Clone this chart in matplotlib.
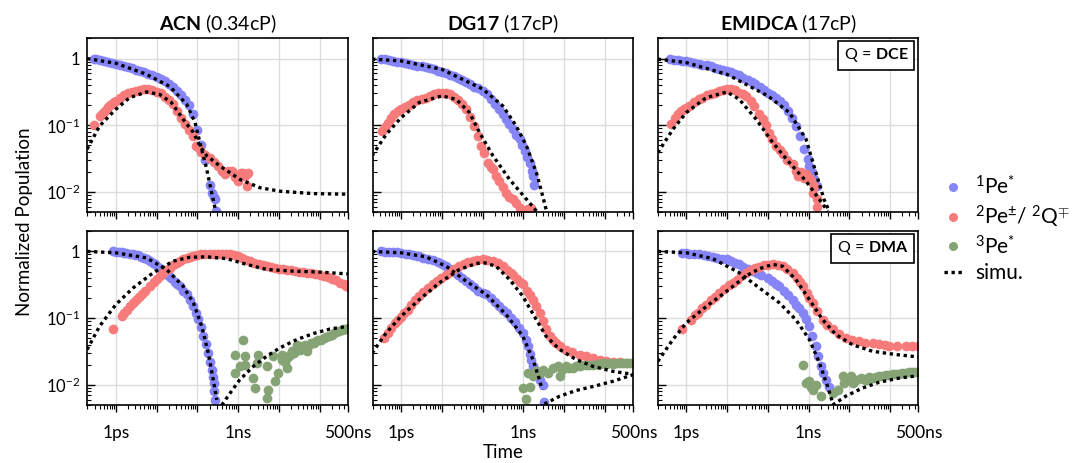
import matplotlib
matplotlib.use("Agg")
import matplotlib.pyplot as plt
from matplotlib.lines import Line2D
from matplotlib.ticker import FixedLocator, LogLocator, NullFormatter

plt.rcParams['font.family'] = ['Lato', 'DejaVu Sans']
plt.rcParams['mathtext.fontset'] = 'custom'
plt.rcParams['mathtext.rm'] = 'Lato'
plt.rcParams['mathtext.it'] = 'Lato:italic'
plt.rcParams['mathtext.bf'] = 'Lato:bold'

# ---------------- data (time in ps, normalized population) ----------------
solvents = ["ACN", "DG17", "EMIDCA"]
viscosity = ["0.34cP", "17cP", "17cP"]
quenchers = ["DCE", "DMA"]
xtick_vals = [1, 1e3, 5e5]
xtick_labels = ["1ps", "1ns", "500ns"]
ytick_vals = [0.01, 0.1, 1]
ytick_labels = ["$10^{-2}$", "$10^{-1}$", "1"]
legend_labels = [r"$^{1}\mathrm{Pe}^{*}$", r"$^{2}\mathrm{Pe}^{\pm}$/ $^{2}\mathrm{Q}^{\mp}$",
                 r"$^{3}\mathrm{Pe}^{*}$", "simu."]

# --- ACN / DCE ---
acn_dce_s1_t = [0.29, 0.32, 0.40, 0.50, 0.63, 0.79, 1.0, 1.26, 1.58, 2.0, 2.5, 3.2, 4.0, 5.0, 6.3, 7.9, 10, 12.6, 15.8, 20, 25, 32, 40, 50, 63, 79, 100, 126, 158, 200, 225, 250, 270, 288]
acn_dce_s1_v = [1.0, 0.97, 0.95, 0.92, 0.90, 0.87, 0.84, 0.81, 0.78, 0.75, 0.72, 0.68, 0.65, 0.62, 0.59, 0.56, 0.53, 0.50, 0.46, 0.42, 0.38, 0.33, 0.28, 0.24, 0.20, 0.15, 0.085, 0.05, 0.03, 0.013, 0.0098, 0.0085, 0.0078, 0.0052]
acn_dce_s2_t = [0.29, 0.40, 0.45, 0.50, 0.56, 0.63, 0.71, 0.79, 0.89, 1.0, 1.26, 1.58, 2.0, 2.5, 3.2, 4.0, 5.0, 6.3, 7.9, 10, 12.6, 15.8, 20, 25, 32, 40, 50, 63, 79, 93, 110, 126, 158, 200, 250, 320, 400, 480, 560, 700, 850, 1000, 1200, 1350, 1500, 1620, 1800]
acn_dce_s2_v = [0.10, 0.138, 0.15, 0.16, 0.17, 0.185, 0.20, 0.21, 0.22, 0.232, 0.255, 0.28, 0.30, 0.32, 0.33, 0.34, 0.345, 0.345, 0.335, 0.32, 0.30, 0.27, 0.24, 0.21, 0.165, 0.13, 0.105, 0.085, 0.07, 0.049, 0.045, 0.04, 0.036, 0.032, 0.028, 0.025, 0.021, 0.0184, 0.021, 0.0206, 0.017, 0.0145, 0.0195, 0.0195, 0.0175, 0.0123, 0.019]
acn_dce_sim1_t = [0.197, 1, 5.7, 21.3, 54.7, 88, 116, 170, 225, 288]
acn_dce_sim1_v = [1.0, 0.85, 0.58, 0.38, 0.207, 0.11, 0.055, 0.022, 0.0098, 0.0049]
acn_dce_sim2_t = [0.197, 0.40, 1, 2.2, 5.7, 12, 23, 45, 80, 116, 170, 360, 1110, 3500, 10900, 71000, 5.2e5]
acn_dce_sim2_v = [0.044, 0.098, 0.174, 0.26, 0.316, 0.29, 0.22, 0.123, 0.078, 0.049, 0.035, 0.0246, 0.0155, 0.0116, 0.0103, 0.0095, 0.0093]

# --- DG17 / DCE ---
dg17_dce_s1_t = [0.32, 0.40, 0.50, 0.63, 0.79, 1.0, 1.26, 1.58, 2.0, 2.5, 3.2, 4.0, 5.0, 6.3, 7.9, 10, 12.6, 15.8, 20, 25, 32, 40, 50, 63, 79, 100, 126, 158, 200, 250, 320, 380, 450, 560, 680, 810, 950, 1080, 1260, 1440, 1600, 1700, 1800]
dg17_dce_s1_v = [1.0, 0.97, 0.94, 0.92, 0.90, 0.88, 0.85, 0.83, 0.80, 0.78, 0.76, 0.74, 0.72, 0.69, 0.66, 0.63, 0.60, 0.57, 0.54, 0.51, 0.47, 0.44, 0.41, 0.38, 0.36, 0.33, 0.29, 0.25, 0.21, 0.175, 0.15, 0.123, 0.105, 0.087, 0.072, 0.062, 0.05, 0.041, 0.033, 0.0276, 0.021, 0.0174, 0.013]
dg17_dce_s2_t = [0.34, 0.40, 0.47, 0.56, 0.69, 0.85, 1.0, 1.26, 1.58, 2.0, 2.5, 3.2, 4.0, 5.0, 6.3, 7.9, 10, 12.6, 15.8, 20, 25, 32, 40, 50, 63, 79, 93, 110, 135, 160, 180, 220, 260, 320, 380, 450, 560, 680, 810, 950, 1080, 1300, 1560]
dg17_dce_s2_v = [0.082, 0.095, 0.11, 0.127, 0.147, 0.162, 0.174, 0.19, 0.205, 0.225, 0.24, 0.25, 0.26, 0.275, 0.29, 0.30, 0.31, 0.30, 0.29, 0.265, 0.24, 0.21, 0.174, 0.135, 0.098, 0.07, 0.049, 0.038, 0.0276, 0.024, 0.022, 0.0175, 0.0146, 0.012, 0.0098, 0.0085, 0.0078, 0.0068, 0.0058, 0.0053, 0.0052, 0.0055, 0.0058]
dg17_dce_sim1_t = [0.194, 1, 10, 100, 316, 670, 1200, 2100, 3000, 3800]
dg17_dce_sim1_v = [0.98, 0.92, 0.69, 0.35, 0.195, 0.098, 0.049, 0.0195, 0.0087, 0.0049]
dg17_dce_sim2_t = [0.194, 0.43, 1, 2.8, 10, 22.5, 48, 84, 180, 460, 1200, 2100]
dg17_dce_sim2_v = [0.035, 0.073, 0.13, 0.22, 0.276, 0.245, 0.155, 0.078, 0.035, 0.0155, 0.0078, 0.0052]

# --- EMIDCA / DCE ---
emi_dce_s1_t = [0.405, 0.5, 0.63, 0.79, 1.0, 1.26, 1.58, 2.0, 2.5, 3.2, 4.0, 5.0, 6.3, 7.9, 10, 12.6, 15.8, 20, 25, 32, 40, 50, 63, 79, 100, 126, 158, 200, 250, 320, 400, 500, 630, 790, 950, 1050, 1200, 1400, 1640]
emi_dce_s1_v = [0.98, 0.96, 0.94, 0.93, 0.92, 0.89, 0.86, 0.83, 0.81, 0.79, 0.76, 0.73, 0.70, 0.67, 0.65, 0.62, 0.59, 0.56, 0.52, 0.48, 0.45, 0.42, 0.37, 0.34, 0.31, 0.28, 0.255, 0.228, 0.2, 0.165, 0.13, 0.098, 0.07, 0.044, 0.031, 0.0245, 0.02, 0.0155, 0.0123]
emi_dce_s2_t = [0.43, 0.52, 0.63, 0.75, 0.89, 1.0, 1.2, 1.58, 2.1, 2.5, 3.2, 4.1, 5.0, 6.5, 7.9, 10, 12.6, 15.8, 20, 25, 30, 38, 47, 60, 75, 90, 109, 130, 160, 200, 235, 300, 410, 480, 540, 650, 760, 870, 1000, 1150, 1260, 1400, 1640, 1640]
emi_dce_s2_v = [0.103, 0.13, 0.15, 0.165, 0.175, 0.18, 0.195, 0.22, 0.245, 0.26, 0.28, 0.29, 0.31, 0.33, 0.34, 0.347, 0.345, 0.335, 0.31, 0.29, 0.275, 0.235, 0.195, 0.15, 0.123, 0.10, 0.078, 0.062, 0.049, 0.042, 0.037, 0.03, 0.026, 0.021, 0.0174, 0.02, 0.0165, 0.0184, 0.016, 0.0146, 0.0098, 0.0125, 0.0078, 0.006]
emi_dce_sim1_t = [0.2, 1, 10, 100, 340, 870, 1520, 2400, 3200]
emi_dce_sim1_v = [0.98, 0.87, 0.58, 0.276, 0.155, 0.062, 0.0195, 0.0078, 0.0052]
emi_dce_sim2_t = [0.2, 0.47, 1, 3.1, 10, 20, 52, 133, 340, 870, 1840, 2950]
emi_dce_sim2_v = [0.039, 0.087, 0.155, 0.26, 0.316, 0.245, 0.123, 0.055, 0.0276, 0.0146, 0.0078, 0.0052]

# --- ACN / DMA ---
acn_dma_s1_t = [0.86, 1.0, 1.2, 1.38, 1.58, 1.8, 2.2, 2.6, 3.0, 3.5, 4.2, 5.0, 5.7, 6.8, 8.0, 9.1, 11, 12.6, 14.6, 17.5, 20, 23, 28, 32, 37.5, 45, 55, 65, 80, 92, 106, 120, 140, 160, 186, 205, 225, 240, 250, 262, 272]
acn_dma_s1_v = [1.0, 0.99, 0.98, 0.98, 0.96, 0.95, 0.93, 0.91, 0.89, 0.87, 0.83, 0.79, 0.76, 0.71, 0.67, 0.64, 0.58, 0.55, 0.51, 0.46, 0.43, 0.40, 0.35, 0.33, 0.30, 0.26, 0.227, 0.19, 0.152, 0.12, 0.096, 0.075, 0.054, 0.041, 0.030, 0.022, 0.017, 0.013, 0.0107, 0.008, 0.006]
acn_dma_s2_t = [0.86, 1.38, 1.6, 1.83, 2.2, 2.67, 3.2, 3.8, 4.3, 5.3, 6.9, 8.5, 10, 12.1, 14.5, 17.5, 21, 26, 32, 37.5, 45, 55, 66, 80, 100, 126, 158, 200, 250, 320, 400, 500, 640, 800, 1000, 1260, 1580, 2000, 2500, 3200, 4000, 5000, 6300, 7900, 10000, 12600, 15800, 20000, 25000, 32000, 40000, 50000, 63000, 79000, 100000, 126000, 158000, 200000, 250000, 320000, 400000, 450000, 520000]
acn_dma_s2_v = [0.068, 0.107, 0.12, 0.135, 0.15, 0.17, 0.19, 0.21, 0.227, 0.26, 0.30, 0.35, 0.39, 0.43, 0.48, 0.53, 0.57, 0.63, 0.68, 0.716, 0.76, 0.80, 0.83, 0.86, 0.89, 0.91, 0.92, 0.93, 0.93, 0.92, 0.92, 0.93, 0.92, 0.88, 0.85, 0.80, 0.75, 0.71, 0.68, 0.64, 0.62, 0.60, 0.58, 0.57, 0.55, 0.54, 0.53, 0.52, 0.51, 0.50, 0.49, 0.48, 0.47, 0.46, 0.44, 0.43, 0.41, 0.39, 0.37, 0.34, 0.32, 0.305, 0.29]
acn_dma_s3_t = [1352, 844, 844, 1120, 1487, 1487, 2380, 2620, 3160, 2880, 5070, 5570, 5070, 7390, 8130, 9810, 11850, 15700, 20900, 27700, 33500, 48800, 71200, 125000, 221000, 354000, 517000, 12000, 14000, 17000, 19000, 23000, 26000, 30000, 36000, 40000, 45000, 55000, 60000, 80000, 90000, 110000, 140000, 170000, 200000, 260000, 300000, 400000, 450000]
acn_dma_s3_v = [0.0468, 0.0285, 0.0151, 0.019, 0.0269, 0.0202, 0.0127, 0.009, 0.0285, 0.0214, 0.019, 0.0085, 0.0064, 0.0269, 0.0114, 0.0151, 0.0285, 0.018, 0.032, 0.0403, 0.0339, 0.032, 0.0427, 0.0507, 0.0603, 0.0676, 0.0716, 0.024, 0.022, 0.026, 0.028, 0.03, 0.034, 0.036, 0.035, 0.038, 0.04, 0.04, 0.042, 0.045, 0.047, 0.048, 0.052, 0.055, 0.057, 0.062, 0.064, 0.068, 0.07]
acn_dma_sim1_t = [0.197, 1, 5.7, 17.6, 45, 80, 128, 186, 246, 300]
acn_dma_sim1_v = [1.0, 0.955, 0.80, 0.537, 0.30, 0.17, 0.076, 0.030, 0.012, 0.006]
acn_dma_sim2_t = [0.197, 0.40, 1, 2.67, 8.3, 25.6, 66, 170, 525, 1620, 5050, 23000, 102000, 517000]
acn_dma_sim2_v = [0.034, 0.076, 0.16, 0.285, 0.48, 0.716, 0.82, 0.83, 0.78, 0.64, 0.537, 0.507, 0.49, 0.46]
acn_dma_sim3_t = [397, 640, 1100, 2370, 5050, 10600, 27700, 71000, 180000, 517000]
acn_dma_sim3_v = [0.005, 0.0076, 0.012, 0.019, 0.027, 0.036, 0.048, 0.059, 0.069, 0.076]

# --- DG17 / DMA ---
dg17_dma_s1_t = [0.32, 0.40, 0.50, 0.63, 0.79, 1.0, 1.33, 1.58, 2.0, 2.5, 2.8, 3.5, 4.5, 6.0, 7.9, 10, 12.8, 15.8, 20, 25, 32, 40, 50, 63, 79, 100, 123, 158, 200, 250, 320, 400, 500, 630, 790, 970, 1150, 1300, 1450, 1560, 1750, 1900, 2200, 2500, 3000, 3300]
dg17_dma_s1_v = [1.0, 0.99, 0.98, 0.98, 0.97, 0.95, 0.93, 0.91, 0.88, 0.86, 0.85, 0.81, 0.78, 0.74, 0.69, 0.64, 0.60, 0.55, 0.50, 0.44, 0.40, 0.36, 0.32, 0.29, 0.26, 0.24, 0.227, 0.20, 0.175, 0.155, 0.135, 0.118, 0.1, 0.088, 0.072, 0.06, 0.047, 0.038, 0.029, 0.024, 0.019, 0.017, 0.014, 0.012, 0.010, 0.0055]
dg17_dma_s2_t = [0.39, 0.47, 0.57, 0.70, 0.83, 1.0, 1.2, 1.46, 1.8, 2.2, 2.8, 3.5, 4.5, 6.0, 7.5, 9.5, 12.8, 16, 20, 27, 35, 45, 58, 75, 101, 130, 180, 240, 315, 400, 500, 560, 700, 850, 970, 1200, 1450, 1730, 2100, 2500, 3000, 3600, 4500, 5500, 6400, 8000, 11400, 16000, 24200, 35000, 51000, 75000, 109000, 160000, 232000, 350000, 520000]
dg17_dma_s2_v = [0.051, 0.06, 0.072, 0.085, 0.095, 0.105, 0.12, 0.135, 0.16, 0.185, 0.215, 0.245, 0.28, 0.32, 0.36, 0.40, 0.45, 0.50, 0.55, 0.60, 0.65, 0.69, 0.716, 0.74, 0.76, 0.75, 0.716, 0.66, 0.60, 0.53, 0.48, 0.45, 0.39, 0.35, 0.32, 0.26, 0.22, 0.19, 0.15, 0.12, 0.09, 0.068, 0.054, 0.047, 0.043, 0.038, 0.034, 0.031, 0.0286, 0.027, 0.0255, 0.024, 0.0227, 0.022, 0.0219, 0.0215, 0.0214]
dg17_dma_s3_t = [982, 1141, 1303, 1432, 1729, 2089, 2522, 3048, 4044, 5370, 7120, 7820, 11400, 16600, 24300, 35400, 51600, 75300, 110000, 160000, 234000, 341000, 517000, 9000, 13000, 20000, 28000, 42000, 63000, 90000, 130000, 190000, 280000, 420000]
dg17_dma_s3_v = [0.009, 0.0062, 0.0151, 0.0095, 0.0135, 0.016, 0.0151, 0.017, 0.0151, 0.018, 0.019, 0.0135, 0.019, 0.018, 0.019, 0.0202, 0.0198, 0.0209, 0.0206, 0.0209, 0.0214, 0.0214, 0.0214, 0.017, 0.018, 0.019, 0.02, 0.02, 0.0205, 0.021, 0.021, 0.0212, 0.0215, 0.0216]
dg17_dma_sim1_t = [0.194, 1, 4.1, 12.8, 39.6, 123, 380, 970, 1730, 2500, 2900]
dg17_dma_sim1_v = [1.0, 0.955, 0.83, 0.60, 0.36, 0.227, 0.113, 0.054, 0.024, 0.012, 0.0085]
dg17_dma_sim2_t = [0.194, 0.43, 1, 2.8, 8.8, 27, 70, 111, 215, 460, 970, 2090, 3600, 7820, 20000, 51600, 160000, 517000]
dg17_dma_sim2_v = [0.03, 0.06, 0.107, 0.19, 0.34, 0.537, 0.66, 0.676, 0.60, 0.38, 0.214, 0.095, 0.054, 0.034, 0.024, 0.019, 0.016, 0.0144]
dg17_dma_sim3_t = [3300, 7820, 20000, 51600, 160000, 517000]
dg17_dma_sim3_v = [0.0052, 0.0068, 0.0083, 0.0095, 0.0114, 0.0144]

# --- EMIDCA / DMA ---
emi_dma_s1_t = [0.8, 1.0, 1.2, 1.58, 2.1, 2.7, 3.5, 4.5, 5.8, 7.5, 10, 12.6, 15.8, 20, 25, 32, 43, 55, 70, 100, 126, 158, 193, 250, 320, 410, 500, 600, 720, 850, 1050, 1250, 1520, 1750, 2000, 2300, 2700, 3200]
emi_dma_s1_v = [0.955, 0.94, 0.93, 0.92, 0.90, 0.88, 0.86, 0.83, 0.80, 0.78, 0.76, 0.72, 0.68, 0.64, 0.59, 0.55, 0.51, 0.47, 0.44, 0.40, 0.36, 0.33, 0.30, 0.26, 0.22, 0.19, 0.16, 0.14, 0.12, 0.098, 0.076, 0.055, 0.038, 0.027, 0.019, 0.015, 0.012, 0.0095]
emi_dma_s2_t = [0.8, 1.33, 1.6, 1.93, 2.5, 3.1, 4.0, 5.0, 6.5, 8.5, 11, 13.9, 17.5, 22, 29.5, 38, 50, 62, 80, 100, 133, 180, 232, 300, 410, 520, 620, 720, 900, 1050, 1260, 1600, 2220, 2800, 3900, 5500, 8200, 12000, 17600, 25000, 37300, 55000, 75000, 95000, 150000, 242000, 350000, 500000]
emi_dma_s2_v = [0.068, 0.095, 0.11, 0.12, 0.14, 0.16, 0.185, 0.21, 0.24, 0.27, 0.31, 0.34, 0.38, 0.43, 0.48, 0.53, 0.57, 0.59, 0.62, 0.63, 0.64, 0.63, 0.60, 0.55, 0.48, 0.40, 0.35, 0.30, 0.24, 0.20, 0.17, 0.13, 0.095, 0.08, 0.068, 0.058, 0.051, 0.047, 0.045, 0.043, 0.042, 0.041, 0.04, 0.039, 0.038, 0.038, 0.038, 0.038]
emi_dma_s3_t = [747, 868, 1048, 1150, 1264, 1527, 2024, 3910, 5180, 6870, 7550, 9100, 11000, 12100, 14600, 19300, 25600, 37300, 54300, 95500, 168000, 294000, 500000, 22000, 30000, 45000, 65000, 80000, 120000, 140000, 200000, 240000, 350000, 420000]
emi_dma_s3_v = [0.02, 0.0107, 0.0114, 0.0095, 0.0085, 0.0101, 0.0068, 0.0076, 0.0085, 0.0135, 0.0107, 0.012, 0.0135, 0.0107, 0.012, 0.0127, 0.012, 0.0127, 0.0135, 0.0143, 0.0148, 0.0155, 0.0155, 0.0125, 0.013, 0.013, 0.0138, 0.014, 0.0145, 0.0147, 0.015, 0.0152, 0.0155, 0.0155]
emi_dma_sim1_t = [0.2, 1, 4.5, 20, 62, 193, 490, 1050, 1840, 2950, 3900]
emi_dma_sim1_v = [1.0, 0.955, 0.78, 0.48, 0.285, 0.17, 0.095, 0.048, 0.0216, 0.0095, 0.0054]
emi_dma_sim2_t = [0.2, 0.47, 1, 3.1, 9.5, 29.5, 62, 133, 232, 490, 1050, 2220, 4700, 12100, 37300, 140000, 500000]
emi_dma_sim2_v = [0.0226, 0.048, 0.085, 0.15, 0.25, 0.43, 0.55, 0.64, 0.60, 0.38, 0.19, 0.095, 0.057, 0.040, 0.032, 0.0286, 0.0263]
emi_dma_sim3_t = [3900, 8200, 21000, 54000, 168000, 500000]
emi_dma_sim3_v = [0.005, 0.0068, 0.009, 0.011, 0.0127, 0.0138]

panels = [
    [  # DCE row
        ([(acn_dce_s1_t, acn_dce_s1_v), (acn_dce_s2_t, acn_dce_s2_v), None],
         [(acn_dce_sim1_t, acn_dce_sim1_v), (acn_dce_sim2_t, acn_dce_sim2_v)]),
        ([(dg17_dce_s1_t, dg17_dce_s1_v), (dg17_dce_s2_t, dg17_dce_s2_v), None],
         [(dg17_dce_sim1_t, dg17_dce_sim1_v), (dg17_dce_sim2_t, dg17_dce_sim2_v)]),
        ([(emi_dce_s1_t, emi_dce_s1_v), (emi_dce_s2_t, emi_dce_s2_v), None],
         [(emi_dce_sim1_t, emi_dce_sim1_v), (emi_dce_sim2_t, emi_dce_sim2_v)]),
    ],
    [  # DMA row
        ([(acn_dma_s1_t, acn_dma_s1_v), (acn_dma_s2_t, acn_dma_s2_v), (acn_dma_s3_t, acn_dma_s3_v)],
         [(acn_dma_sim1_t, acn_dma_sim1_v), (acn_dma_sim2_t, acn_dma_sim2_v), (acn_dma_sim3_t, acn_dma_sim3_v)]),
        ([(dg17_dma_s1_t, dg17_dma_s1_v), (dg17_dma_s2_t, dg17_dma_s2_v), (dg17_dma_s3_t, dg17_dma_s3_v)],
         [(dg17_dma_sim1_t, dg17_dma_sim1_v), (dg17_dma_sim2_t, dg17_dma_sim2_v), (dg17_dma_sim3_t, dg17_dma_sim3_v)]),
        ([(emi_dma_s1_t, emi_dma_s1_v), (emi_dma_s2_t, emi_dma_s2_v), (emi_dma_s3_t, emi_dma_s3_v)],
         [(emi_dma_sim1_t, emi_dma_sim1_v), (emi_dma_sim2_t, emi_dma_sim2_v), (emi_dma_sim3_t, emi_dma_sim3_v)]),
    ],
]

colors = ["#8585f7", "#f77b7b", "#85a374"]
sim_style = dict(color="black", lw=2.4, linestyle=(0, (1, 1.1)), dash_capstyle="butt")
major_x = [1, 10, 100, 1e3, 1e4, 1e5, 5e5]

fig, axes = plt.subplots(2, 3, figsize=(10.73, 4.63), dpi=100)
fig.subplots_adjust(left=0.0814, right=0.856, top=0.917, bottom=0.125, wspace=0.094, hspace=0.11)

for r in range(2):
    for c in range(3):
        ax = axes[r][c]
        series, sims = panels[r][c]
        for k, s in enumerate(series):
            if s is None:
                continue
            ax.plot(s[0], s[1], "o", color=colors[k], ms=7.0, mew=0, zorder=2)
        for s in sims:
            ax.plot(s[0], s[1], zorder=3, **sim_style)
        ax.set_xscale("log")
        ax.set_yscale("log")
        ax.set_xlim(0.2, 5e5)
        ax.set_ylim(0.005, 2.0)
        ax.xaxis.set_major_locator(FixedLocator(major_x))
        ax.xaxis.set_minor_locator(LogLocator(base=10, subs=range(2, 10), numticks=20))
        ax.xaxis.set_minor_formatter(NullFormatter())
        ax.yaxis.set_major_locator(FixedLocator(ytick_vals))
        ax.yaxis.set_minor_locator(LogLocator(base=10, subs=range(2, 10), numticks=20))
        ax.yaxis.set_minor_formatter(NullFormatter())
        if r == 1:
            ax.set_xticklabels([xtick_labels[xtick_vals.index(v)] if v in xtick_vals else "" for v in major_x])
        else:
            ax.set_xticklabels([""] * len(major_x))
        if c == 0:
            ax.set_yticklabels(ytick_labels)
        else:
            ax.set_yticklabels([""] * 3)
        ax.tick_params(axis="x", which="major", direction="out", length=5, width=1, labelsize=12.5, pad=9)
        ax.tick_params(axis="x", which="minor", direction="out", length=3, width=0.8)
        ax.tick_params(axis="y", which="major", direction="in", length=6, width=1, labelsize=12, pad=5)
        ax.tick_params(axis="y", which="minor", direction="in", length=3, width=0.8)
        ax.grid(True, which="major", color="#dddddd", lw=1.0, zorder=0)
        ax.set_axisbelow(True)
        for sp in ax.spines.values():
            sp.set_linewidth(1.2)
        if r == 0:
            ax.set_title(r"$\mathbf{%s}$ (%s)" % (solvents[c], viscosity[c]), fontsize=14, pad=6)
        if c == 2:
            ax.text(0.962, 0.955, r"Q$\,=\,$$\mathbf{%s}$" % quenchers[r], transform=ax.transAxes,
                    ha="right", va="top", fontsize=11.5,
                    bbox=dict(boxstyle="square,pad=0.35", fc="white", ec="black", lw=1.2), zorder=5)

fig.text(0.023, 0.522, "Normalized Population", rotation=90, ha="center", va="center", fontsize=13.5)
fig.text(0.469, 0.022, "Time", ha="center", va="center", fontsize=13.5)

handles = [Line2D([], [], marker="o", ls="none", color=colors[0], ms=6.5, mew=0),
           Line2D([], [], marker="o", ls="none", color=colors[1], ms=6.5, mew=0),
           Line2D([], [], marker="o", ls="none", color=colors[2], ms=6.5, mew=0),
           Line2D([], [], **sim_style)]
fig.legend(handles, legend_labels, loc="center left", bbox_to_anchor=(0.862, 0.505), frameon=False,
           fontsize=15, handlelength=0.9, handletextpad=0.6, labelspacing=0.25)

fig.savefig("out.png", dpi=100)
